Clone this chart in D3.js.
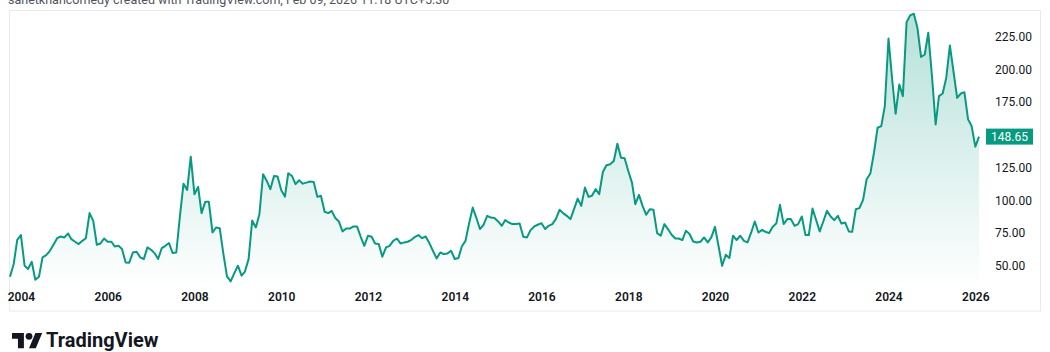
<!DOCTYPE html>
<html>
<head>
<meta charset="utf-8">
<script src="https://cdn.jsdelivr.net/npm/d3@7"></script>
<style>
  body { margin: 0; background: #fff; }
  svg { display: block; font-family: Roboto, "Open Sans", sans-serif; }
</style>
</head>
<body>
<svg id="chart" width="1050" height="352"></svg>
<script>
  // monthly closes, first bar = Oct 2003, last bar = Feb 2026
  const firstMonth = new Date(2003, 9, 1);
  const closes = [
    41.6, 51.3, 69.8, 73.4, 50, 47.5, 53, 39.3, 41.6, 56.4, 58.1, 61.4,
    66, 71, 72.3, 71.6, 74.6, 70.3, 68.3, 66.5, 69, 71, 90.2, 84.3,
    66, 67, 70.8, 68.3, 68.3, 64.7, 65.2, 62.7, 52.5, 52.3, 60.1, 60.7,
    56.4, 55.1, 64, 62.2, 59.4, 55.1, 63.5, 65.2, 67.3, 59.7, 60.1, 88,
    112.7, 107.9, 133.3, 104.6, 110.2, 90.2, 98.8, 98.8, 75.4, 79.2, 78.7, 58.9,
    41.8, 38, 44.1, 50, 42.4, 45.5, 55, 84.5, 79.2, 89.4, 119.9, 114.8,
    108.5, 118.6, 118.1, 107.7, 102.8, 120.7, 118.6, 112.3, 115.3, 112.7, 113.5, 114.3,
    114, 102.6, 103.4, 91.2, 90.2, 91.9, 86.4, 83.8, 76.2, 78.4, 78.4, 80,
    80, 72.1, 65.2, 72.9, 72.1, 67, 66.5, 56.9, 64, 65.2, 69, 70.8,
    67, 67.8, 68.3, 69.8, 72.1, 73.4, 71, 72.3, 67.3, 61.4, 55.6, 60.1,
    58.9, 59.4, 61.4, 55.1, 55.9, 64.7, 69, 82, 94.4, 86.8, 78, 81.3,
    88.1, 86.8, 86.4, 83.8, 80.5, 84.8, 83, 81.8, 81.8, 82.2, 72.1, 71.6,
    77.2, 80, 81.3, 82.5, 78, 80.5, 81.8, 85.6, 92.7, 90.2, 88.1, 85.6,
    93.2, 101.3, 95.7, 109.7, 102.6, 103.4, 108.5, 104.6, 121.6, 126.8, 127.5, 130,
    143.2, 132.5, 132.1, 122.4, 113.5, 97, 104.1, 95.7, 88.9, 93.2, 92.7, 74.9,
    72.9, 81.8, 78, 73.6, 70.8, 70.8, 69.6, 76.7, 74.2, 68.5, 67.8, 68.3,
    71.6, 67.8, 71.6, 79.7, 64.5, 50, 58.4, 55.9, 72.9, 69.6, 72.9, 69,
    67.8, 75.4, 83.8, 75.4, 77.4, 75.9, 74.9, 79.7, 82.5, 96.5, 81.8, 85.6,
    85.6, 80.5, 81.8, 87.6, 73.4, 73.4, 93.7, 85.1, 76.2, 83.8, 91.9, 87.6,
    84.8, 88.1, 82.2, 83, 76.2, 75.9, 93.2, 94, 100.3, 116.1, 120.4, 136.5,
    155.4, 156.7, 172, 223.6, 192.3, 166.1, 188.5, 179.6, 236, 241.3, 242.6, 231.6,
    209.5, 211.4, 228, 194.8, 158, 179.6, 181.6, 193.5, 218.2, 198.6, 178.3, 181.6,
    182.6, 161.8, 156.7, 141, 148.65
  ];
  const priceTicks = [50, 75, 100, 125, 150, 175, 200, 225];
  const yearTicks = [2004, 2006, 2008, 2010, 2012, 2014, 2016, 2018, 2020, 2022, 2024, 2026];
  const lastPrice = 148.65;
  const headerText = "sanetkhancomedy created with TradingView.com, Feb 09, 2026 11:18 UTC+5:30";

  const green = "#089981";
  const data = closes.map((v, i) => ({ date: d3.timeMonth.offset(firstMonth, i), value: v }));

  const svg = d3.select("#chart");

  // header (cut off at top like the export)
  svg.append("text")
    .attr("x", 8).attr("y", 4)
    .attr("font-size", 12.5)
    .attr("fill", "#50535e")
    .text(headerText);

  // panel frame
  svg.append("rect")
    .attr("x", 9.5).attr("y", 10.5)
    .attr("width", 1031).attr("height", 300.5)
    .attr("fill", "none")
    .attr("stroke", "#e8eaef");

  const x = d3.scaleTime()
    .domain([data[0].date, data[data.length - 1].date])
    .range([10, 979]);

  const y = d3.scaleLinear()
    .domain([50, 225])
    .range([265.7, 36.7]);

  const plotBottom = 288;

  const defs = svg.append("defs");
  const grad = defs.append("linearGradient")
    .attr("id", "fillGrad")
    .attr("gradientUnits", "userSpaceOnUse")
    .attr("x1", 0).attr("x2", 0)
    .attr("y1", 12).attr("y2", plotBottom);
  grad.append("stop").attr("offset", 0).attr("stop-color", green).attr("stop-opacity", 0.3);
  grad.append("stop").attr("offset", 1).attr("stop-color", green).attr("stop-opacity", 0.0);

  const area = d3.area()
    .x(d => x(d.date))
    .y0(plotBottom)
    .y1(d => y(d.value));

  const line = d3.line()
    .x(d => x(d.date))
    .y(d => y(d.value));

  svg.append("path")
    .datum(data)
    .attr("d", area)
    .attr("fill", "url(#fillGrad)");

  svg.append("path")
    .datum(data)
    .attr("d", line)
    .attr("fill", "none")
    .attr("stroke", green)
    .attr("stroke-width", 2)
    .attr("stroke-linejoin", "round");

  // price axis (skip the tick hidden behind the last price tag)
  const yAxis = d3.axisRight(y)
    .tickValues(priceTicks.filter(v => v !== 150))
    .tickFormat(d3.format(".2f"))
    .tickSize(0)
    .tickPadding(0);

  svg.append("g")
    .attr("transform", "translate(995,0)")
    .call(yAxis)
    .call(g => g.select(".domain").remove())
    .selectAll("text")
    .attr("font-family", "Roboto, sans-serif")
    .attr("font-size", 12)
    .attr("fill", "#131722");

  // last price tag
  const tag = svg.append("g")
    .attr("transform", `translate(986, ${y(lastPrice)})`);
  tag.append("rect")
    .attr("x", 0).attr("y", -8)
    .attr("width", 47).attr("height", 16)
    .attr("fill", green);
  tag.append("text")
    .attr("x", 23.5).attr("y", 0)
    .attr("dy", "0.35em")
    .attr("text-anchor", "middle")
    .attr("font-size", 12)
    .attr("fill", "#fff")
    .text(d3.format(".2f")(lastPrice));

  // time axis
  const xAxis = d3.axisBottom(x)
    .tickValues(yearTicks.map(yr => new Date(yr, 0, 1)))
    .tickFormat(d3.timeFormat("%Y"))
    .tickSize(0)
    .tickPadding(0);

  svg.append("g")
    .attr("transform", "translate(0,292)")
    .call(xAxis)
    .call(g => g.select(".domain").remove())
    .selectAll("text")
    .attr("font-family", "Roboto, sans-serif")
    .attr("font-size", 12)
    .attr("font-weight", 600)
    .attr("fill", "#131722");

  // TradingView logo
  const logo = svg.append("g")
    .attr("transform", "translate(12,329.5) scale(0.85)")
    .attr("fill", "#131722");
  logo.append("path").attr("d", "M14 22H7V11H0V4h14v18zM28 22h-8l7.5-18h8L28 22z");
  logo.append("circle").attr("cx", 20).attr("cy", 8).attr("r", 4);

  svg.append("text")
    .attr("x", 46).attr("y", 347)
    .attr("font-family", "Roboto, sans-serif")
    .attr("font-size", 20)
    .attr("font-weight", 700)
    .attr("fill", "#131722")
    .text("TradingView");
</script>
</body>
</html>
